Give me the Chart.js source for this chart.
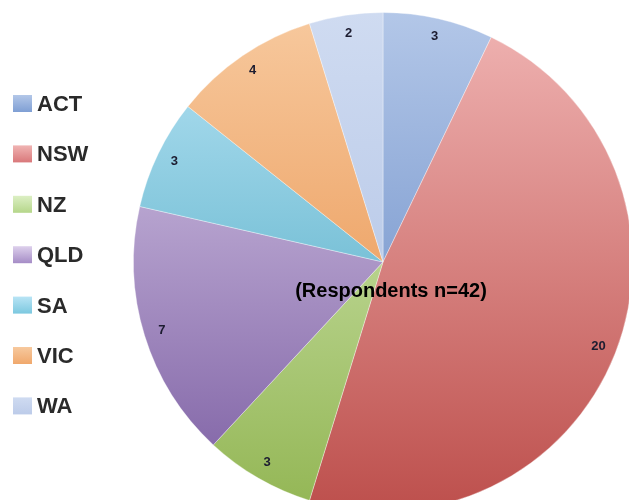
<!DOCTYPE html>
<html>
<head>
<meta charset="utf-8">
<script src="https://cdn.jsdelivr.net/npm/chart.js@4.4.1/dist/chart.umd.min.js"></script>
<style>
    html, body { margin: 0; padding: 0; background: #fff; }
    #wrap { position: relative; width: 629px; height: 500px; overflow: hidden; }
    #pie { position: absolute; left: 0; top: 0; }
</style>
</head>
<body>
<div id="wrap"><canvas id="pie" width="640" height="520"></canvas></div>
<script>
// respondents by state / country
const regions = ['ACT', 'NSW', 'NZ', 'QLD', 'SA', 'VIC', 'WA'];
const respondents = [3, 20, 3, 7, 3, 4, 2];
const totalLabel = '(Respondents n=42)';

// each slice fades from a light tint at the top to the full colour at the bottom
const topColors = ['#b3c7e8', '#f0b4b3', '#dcefc4', '#ddd0ec', '#b8e4f5', '#f7c99e', '#cfdbf1'];
const bottomColors = ['#5b80c0', '#bd4f4c', '#93b654', '#7a5ca1', '#3c9fba', '#e6873c', '#a9bde2'];
const legendColors = ['#7f9fd4', '#d9787a', '#b5d68a', '#a58cc6', '#7cc8df', '#f0a86c', '#bccbe9'];

function sliceFill(context) {
    const i = context.dataIndex;
    const area = context.chart.chartArea;
    if (!area) return bottomColors[i];
    const g = context.chart.ctx.createLinearGradient(0, area.top, 0, area.bottom);
    g.addColorStop(0, topColors[i]);
    g.addColorStop(1, bottomColors[i]);
    return g;
}

// numbers near the rim plus the centre caption
const sliceLabels = {
    id: 'sliceLabels',
    afterDatasetsDraw(chart) {
        const ctx = chart.ctx;
        const meta = chart.getDatasetMeta(0);
        ctx.save();
        ctx.fillStyle = '#1c1c30';
        ctx.font = 'bold 13px "Liberation Sans", Arial, sans-serif';
        ctx.textAlign = 'center';
        ctx.textBaseline = 'middle';
        meta.data.forEach((arc, i) => {
            const mid = (arc.startAngle + arc.endAngle) / 2;
            const r = arc.outerRadius * 0.928;
            ctx.fillText(String(respondents[i]), arc.x + Math.cos(mid) * r, arc.y + Math.sin(mid) * r);
        });
        const first = meta.data[0];
        ctx.fillStyle = '#000';
        ctx.font = 'bold 20px "Liberation Sans", Arial, sans-serif';
        ctx.fillText(totalLabel, first.x + 8, first.y + 29);
        ctx.restore();
    }
};

// legend down the left side
const sideLegend = {
    id: 'sideLegend',
    afterDraw(chart) {
        const ctx = chart.ctx;
        ctx.save();
        ctx.font = 'bold 22px "Liberation Sans", Arial, sans-serif';
        ctx.textBaseline = 'middle';
        regions.forEach((name, i) => {
            const y = 103 + i * 50.4;
            const g = ctx.createLinearGradient(0, y - 8, 0, y + 9);
            g.addColorStop(0, topColors[i]);
            g.addColorStop(1, legendColors[i]);
            ctx.fillStyle = g;
            ctx.fillRect(13, y - 8, 19, 17);
            ctx.fillStyle = '#2a2a2a';
            ctx.fillText(name, 37, y + 2);
        });
        ctx.restore();
    }
};

new Chart(document.getElementById('pie'), {
    type: 'pie',
    data: {
        labels: regions,
        datasets: [{
            data: respondents,
            backgroundColor: sliceFill,
            borderColor: 'rgba(255,255,255,0.35)',
            borderWidth: 1
        }]
    },
    options: {
        responsive: false,
        animation: false,
        layout: { padding: { left: 133, top: 12, right: 7, bottom: 8 } },
        plugins: {
            legend: { display: false },
            tooltip: { enabled: false }
        }
    },
    plugins: [sliceLabels, sideLegend]
});
</script>
</body>
</html>
